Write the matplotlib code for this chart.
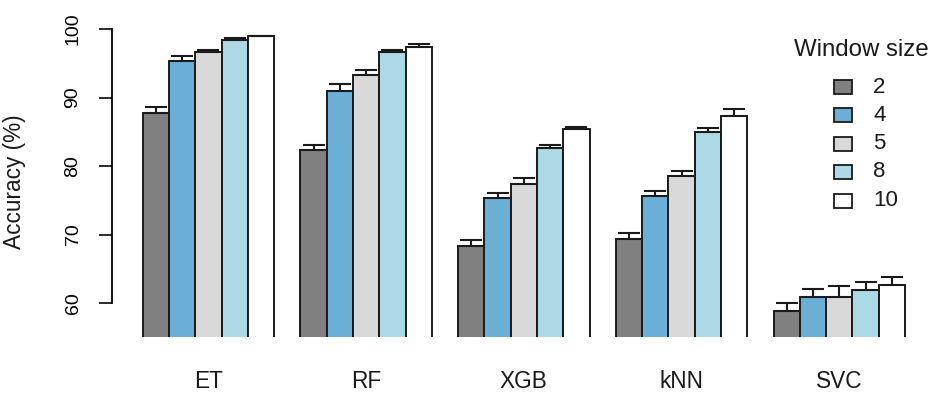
import matplotlib
matplotlib.use("Agg")
import matplotlib.pyplot as plt
import numpy as np
from matplotlib.patches import Rectangle

plt.rcParams['font.family'] = ['Liberation Sans', 'DejaVu Sans']

models = ["ET", "RF", "XGB", "kNN", "SVC"]
window_sizes = ["2", "4", "5", "8", "10"]
colors = ["#808080", "#6BAED6", "#D9D9D9", "#ADD8E6", "#FFFFFF"]

# accuracy (%) per window size, ordered by model
acc = {
    "2":  [87.7, 82.3, 68.35, 69.4, 58.9],
    "4":  [95.3, 91.0, 75.3, 75.65, 60.9],
    "5":  [96.7, 93.3, 77.35, 78.6, 60.9],
    "8":  [98.4, 96.7, 82.7, 85.0, 61.9],
    "10": [99.0, 97.3, 85.4, 87.35, 62.6],
}
# upper error (error bar top minus bar top)
err = {
    "2":  [0.9, 0.7, 0.85, 0.85, 1.05],
    "4":  [0.75, 1.0, 0.7, 0.75, 1.1],
    "5":  [0.3, 0.7, 0.85, 0.7, 1.65],
    "8":  [0.3, 0.3, 0.3, 0.6, 1.1],
    "10": [0.05, 0.5, 0.35, 0.95, 1.2],
}

W, H = 935, 395
fig = plt.figure(figsize=(W / 100, H / 100), dpi=100)
ax_left, ax_right, ax_top, ax_bot = 111.7, 935, 29, 337.3
ax = fig.add_axes([ax_left / W, 1 - ax_bot / H, (ax_right - ax_left) / W, (ax_bot - ax_top) / H])

n_groups = len(models)
n_ser = len(window_sizes)
for j, ws in enumerate(window_sizes):
    lefts = np.array([1 + i * (n_ser + 1) + j for i in range(n_groups)])
    centers = lefts + 0.5
    vals = np.array(acc[ws])
    ax.bar(centers, vals, width=1.0, color=colors[j], edgecolor="#1a1a1a",
           linewidth=1.4, zorder=2)
    ax.errorbar(centers, vals, yerr=[np.zeros(n_groups), np.array(err[ws])],
                fmt="none", ecolor="#1a1a1a", elinewidth=1.5, capsize=7.8,
                capthick=1.5, zorder=3)

ax.set_xlim(-0.179, 31.14)
ax.set_ylim(55, 100)
for s in ["top", "right", "bottom"]:
    ax.spines[s].set_visible(False)
ax.spines["left"].set_bounds(60, 100)
ax.spines["left"].set_linewidth(1.3)
ax.set_yticks([60, 70, 80, 90, 100])
ax.set_yticklabels(["60", "70", "80", "90", "100"], rotation=90, va="center")
ax.tick_params(axis="y", length=9.7, width=1.3, pad=12, labelsize=14, color="#1a1a1a")
ax.set_xticks([])

group_centers = [1 + i * (n_ser + 1) + n_ser / 2 for i in range(n_groups)]
for gc, m in zip(group_centers, models):
    ax.text(gc, -0.143, m, transform=ax.get_xaxis_transform(), ha="center",
            va="center", fontsize=16.3, color="#1a1a1a", clip_on=False)

fig.text(15 / W, 1 - 182 / H, "Accuracy (%)", rotation=90, ha="center",
         va="center", fontsize=16.3, color="#1a1a1a")

# legend
fig.text(861 / W, 1 - 50 / H, "Window size", ha="center", va="center",
         fontsize=17.3, color="#1a1a1a")
row_y = [87.3, 115.3, 143.6, 171.9, 200.5]
for j, ws in enumerate(window_sizes):
    y = row_y[j]
    fig.add_artist(Rectangle((834 / W, 1 - (y + 7) / H), 17.7 / W, 14 / H,
                             facecolor=colors[j], edgecolor="#1a1a1a",
                             linewidth=1.3, transform=fig.transFigure))
    fig.text(873 / W, 1 - y / H, ws, ha="left", va="center",
             fontsize=16, color="#1a1a1a")

fig.savefig("out.png", dpi=100, facecolor="white")
